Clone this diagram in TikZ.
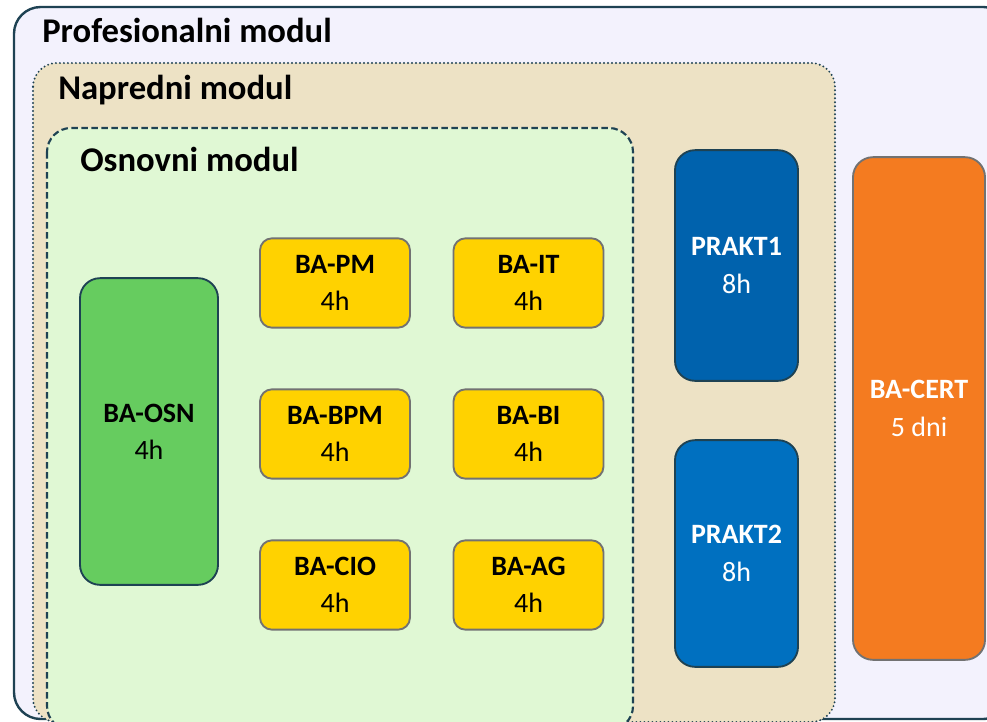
\documentclass[tikz,border=0pt]{standalone}
\usepackage{fontspec}
\setmainfont{Carlito}
\definecolor{okvir}{HTML}{1E4253}
\definecolor{sivi}{HTML}{727272}
\definecolor{profbg}{HTML}{F3F2FD}
\definecolor{naprbg}{HTML}{EDE2C5}
\definecolor{osnbg}{HTML}{E0F8D4}
\definecolor{zelena}{HTML}{66CC5F}
\definecolor{zuta}{HTML}{FFD200}
\definecolor{plava}{HTML}{0062AD}
\definecolor{plavasv}{HTML}{0070C0}
\definecolor{narandz}{HTML}{F47B20}
\tikzset{
  naslov/.style={anchor=west,inner sep=0pt,font=\fontsize{26}{31}\selectfont\bfseries},
  modul/.style={draw,rounded corners=9pt,line width=1.4pt,align=center,inner sep=0pt,
    font=\fontsize{21}{25}\selectfont},
  kratki/.style={modul,fill=zuta,draw=sivi,minimum width=112.5pt,minimum height=67pt}
}

\begin{document}
\begin{tikzpicture}[x=0.75pt,y=-0.75pt]
  \useasboundingbox (0,0) rectangle (987,721);
  \clip (0,0) rectangle (987,721);

  % okviri modula
  \draw[okvir,fill=profbg,line width=1.8pt,rounded corners=20pt] (14,7) rectangle (1010,719);
  \node[naslov] (prof) at (42,30) {Profesionalni modul};

  \draw[okvir,fill=naprbg,line width=1.6pt,line cap=round,dash pattern=on 0pt off 3pt,
        rounded corners=18pt] (33,63) rectangle (835,722);
  \node[naslov] (napr) at (58,90) {Napredni modul};

  \draw[okvir,fill=osnbg,line width=1.6pt,dash pattern=on 5pt off 2.5pt,
        rounded corners=18pt] (47,128) rectangle (633,730);
  \node[naslov] (osn) at (80,159) {Osnovni modul};

  % osnovni predmeti
  \node[modul,fill=zelena,draw=okvir,rounded corners=15pt,minimum width=103.5pt,minimum height=230pt]
       (baosn) at (149,431.5) {\textbf{BA-OSN}\\[3pt]4h};

  \node[kratki] (bapm)  at (335,283)   {\textbf{BA-PM}\\[3pt]4h};
  \node[kratki] (bait)  at (528.5,283) {\textbf{BA-IT}\\[3pt]4h};
  \node[kratki] (babpm) at (335,434)   {\textbf{BA-BPM}\\[3pt]4h};
  \node[kratki] (babi)  at (528.5,434) {\textbf{BA-BI}\\[3pt]4h};
  \node[kratki] (bacio) at (335,585)   {\textbf{BA-CIO}\\[3pt]4h};
  \node[kratki] (baag)  at (528.5,585) {\textbf{BA-AG}\\[3pt]4h};

  % prakse
  \node[modul,fill=plava,draw=okvir,text=white,rounded corners=15pt,minimum width=92.25pt,minimum height=173pt]
       (prakt1) at (736.5,265.5) {\textbf{PRAKT1}\\[3pt]8h};
  \node[modul,fill=plavasv,draw=okvir,text=white,rounded corners=15pt,minimum width=92.25pt,minimum height=170pt]
       (prakt2) at (736.5,553.5) {\textbf{PRAKT2}\\[3pt]8h};

  % certifikat
  \node[modul,fill=narandz,draw=sivi,text=white,rounded corners=15pt,minimum width=99pt,minimum height=377pt]
       (bacert) at (919,408.5) {\textbf{BA-CERT}\\[3pt]5 dni};
\end{tikzpicture}
\end{document}
